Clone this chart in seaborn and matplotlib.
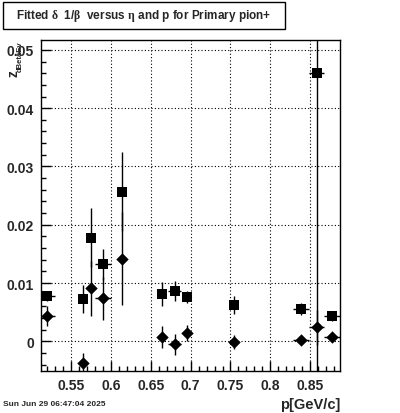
import matplotlib
matplotlib.use("Agg")
import matplotlib.pyplot as plt
import seaborn as sns
import numpy as np
import pandas as pd
from matplotlib.ticker import MultipleLocator, FormatStrFormatter
from matplotlib.patches import Rectangle

# data
p = [0.520, 0.565, 0.575, 0.590, 0.614, 0.664, 0.680, 0.695, 0.754, 0.838, 0.858, 0.878]
p_err = [0.010, 0.0, 0.0, 0.010, 0.0, 0.0, 0.008, 0.0, 0.0, 0.010, 0.009, 0.010]
sq_z = [0.0077, 0.0072, 0.0178, 0.0132, 0.0257, 0.0081, 0.0086, 0.0076, 0.0062, 0.0055, 0.0461, 0.0043]
sq_err = [0.0008, 0.0024, 0.0050, 0.0026, 0.0067, 0.0020, 0.0017, 0.0010, 0.0015, 0.0010, 0.0600, 0.0008]
dia_z = [0.0044, -0.0037, 0.0091, 0.0074, 0.0142, 0.0007, -0.0005, 0.0014, -0.0002, 0.0003, 0.0024, 0.0007]
dia_err = [0.0017, 0.0017, 0.0047, 0.0037, 0.0080, 0.0019, 0.0018, 0.0014, 0.0012, 0.0006, 0.0030, 0.0006]

sns.set_style("ticks")
plt.rcParams['font.family'] = ['Liberation Sans', 'DejaVu Sans']
plt.rcParams['font.weight'] = 'bold'
plt.rcParams['mathtext.fontset'] = 'custom'
plt.rcParams['mathtext.rm'] = 'Liberation Serif'
plt.rcParams['mathtext.it'] = 'Liberation Serif:italic'
plt.rcParams['mathtext.bf'] = 'Liberation Serif:bold'

df = pd.DataFrame({'p': p, 'sq': sq_z, 'dia': dia_z})

fig = plt.figure(figsize=(4, 4.14), dpi=100)
ax = fig.add_axes([0.1025, 0.1014, 0.7475, 0.7996])

# error bars
ax.errorbar(p, sq_z, xerr=p_err, yerr=sq_err, fmt='none', ecolor='black', elinewidth=1, capsize=0, zorder=2)
ax.errorbar(p, dia_z, xerr=p_err, yerr=dia_err, fmt='none', ecolor='black', elinewidth=1, capsize=0, zorder=2)

# markers
sns.scatterplot(data=df, x='p', y='sq', marker='s', s=52, color='black', edgecolor='black', linewidth=0, ax=ax, zorder=3)
sns.scatterplot(data=df, x='p', y='dia', marker='D', s=40, color='black', edgecolor='black', linewidth=0, ax=ax, zorder=3)

ax.set_xlim(0.5121, 0.8875)
ax.set_ylim(-0.0051, 0.0517)

ax.xaxis.set_major_locator(MultipleLocator(0.05))
ax.xaxis.set_minor_locator(MultipleLocator(0.01))
ax.yaxis.set_major_locator(MultipleLocator(0.01))
ax.yaxis.set_minor_locator(MultipleLocator(0.002))
ax.xaxis.set_major_formatter(FormatStrFormatter('%g'))
ax.yaxis.set_major_formatter(FormatStrFormatter('%g'))

ax.tick_params(which='both', direction='in', top=False, right=False, color='black')
ax.tick_params(which='major', length=7, width=1, labelsize=10, pad=5)
ax.tick_params(which='minor', length=3.5, width=1)
for lab in ax.get_xticklabels() + ax.get_yticklabels():
    lab.set_fontweight('bold')

ax.grid(True, which='major', color='black', linestyle=(0, (1, 2)), linewidth=0.8)
for sp in ax.spines.values():
    sp.set_visible(True)
    sp.set_color('black')
    sp.set_linewidth(1)

ax.set_xlabel('')
ax.set_ylabel('')

# axis titles
fig.text(340 / 400, 1 - 405 / 414, 'p[GeV/c]', ha='right', va='center', fontsize=10.5, fontweight='bold')
fig.text(13.5 / 400, 1 - 70 / 414, 'z', ha='center', va='top', rotation=90, fontsize=10, fontweight='bold')
fig.text(20 / 400, 1 - 41 / 414, 'dBetaEv', ha='center', va='top', rotation=90, fontsize=5.5, fontweight='bold')

# title box
fig.patches.append(Rectangle((3 / 400, 1 - 30 / 414), 282 / 400, 27 / 414, transform=fig.transFigure,
                             facecolor='white', edgecolor='black', linewidth=1))
fig.text(144 / 400, 1 - 16.5 / 414,
         r'Fitted $\mathrm{\delta}$  1/$\mathrm{\beta}$  versus $\mathrm{\eta}$ and p for Primary pion+',
         ha='center', va='center', fontsize=8.5, fontweight='bold')

# date stamp
fig.text(3 / 400, 1 - 405 / 414, 'Sun Jun 29 06:47:04 2025', ha='left', va='center', fontsize=6, fontweight='bold')

fig.savefig('out.png', dpi=100)
